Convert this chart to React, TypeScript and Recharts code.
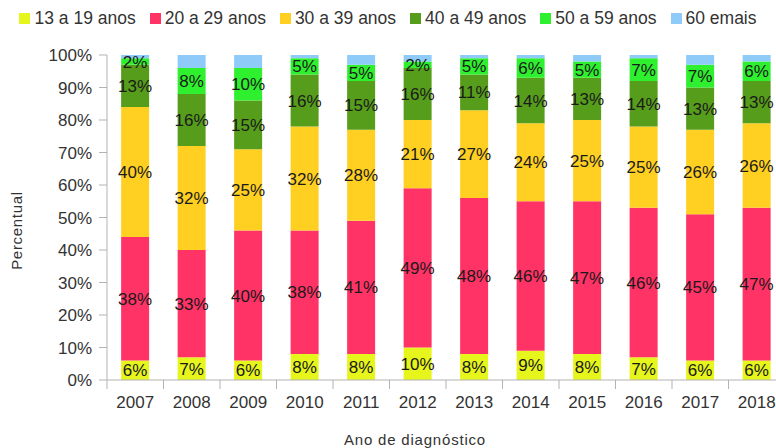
import { BarChart, Bar, XAxis, YAxis, Legend, LabelList } from "recharts";

const years = ["2007", "2008", "2009", "2010", "2011", "2012", "2013", "2014", "2015", "2016", "2017", "2018"];
const age13 = [6, 7, 6, 8, 8, 10, 8, 9, 8, 7, 6, 6];
const age20 = [38, 33, 40, 38, 41, 49, 48, 46, 47, 46, 45, 47];
const age30 = [40, 32, 25, 32, 28, 21, 27, 24, 25, 25, 26, 26];
const age40 = [13, 16, 15, 16, 15, 16, 11, 14, 13, 14, 13, 13];
const age50 = [2, 8, 10, 5, 5, 2, 5, 6, 5, 7, 7, 6];
const age60 = [1, 4, 4, 1, 3, 2, 1, 1, 2, 1, 3, 2];
const yTicks = [0, 10, 20, 30, 40, 50, 60, 70, 80, 90, 100];

const series = [
  { key: "a13", name: "13 a 19 anos", color: "#e6f51c" },
  { key: "a20", name: "20 a 29 anos", color: "#ff3366" },
  { key: "a30", name: "30 a 39 anos", color: "#ffd022" },
  { key: "a40", name: "40 a 49 anos", color: "#579d1c" },
  { key: "a50", name: "50 a 59 anos", color: "#2ef02e" },
  { key: "a60", name: "60 emais", color: "#8ecbf8" },
];

const data = years.map((year, i) => ({
  year,
  a13: age13[i],
  a20: age20[i],
  a30: age30[i],
  a40: age40[i],
  a50: age50[i],
  a60: age60[i],
}));

const FONT = "'Liberation Sans', Arial, sans-serif";
const WIDTH = 792;
const LEFT = 107;
const RIGHT = 7;
const STEP = (WIDTH - LEFT - RIGHT) / years.length;

const XTick = (props: any) => {
  const { x, y, payload } = props;
  return (
    <g>
      <line x1={x - STEP / 2} y1={y} x2={x - STEP / 2} y2={y + 9} stroke="#b3b3b3" />
      <text x={x} y={y + 28} textAnchor="middle" fontSize={17} fill="#333" fontFamily={FONT}>
        {payload.value}
      </text>
    </g>
  );
};

const LegendBox = () => (
  <div style={{ display: "flex", justifyContent: "center", width: 776, fontFamily: FONT, fontSize: 17.5, color: "#333" }}>
    {series.map((s, i) => (
      <div key={s.key} style={{ display: "flex", alignItems: "center", marginLeft: i === 0 ? 0 : 14 }}>
        <span style={{ width: 11, height: 11, background: s.color, marginRight: 4, display: "inline-block" }} />
        <span>{s.name}</span>
      </div>
    ))}
  </div>
);

const labelStyle = { fontSize: 17, fill: "#1a1a1a", fontFamily: FONT };
const pct = (v: any) => `${v}%`;

export default function App() {
  return (
    <div style={{ position: "absolute", left: 0, top: 0, width: 776, height: 448, overflow: "hidden", background: "#fff" }}>
      <BarChart
        width={WIDTH}
        height={448}
        data={data}
        barCategoryGap="25%"
        margin={{ top: 55, right: RIGHT, bottom: 0, left: 0 }}
      >
        <Legend verticalAlign="middle" content={<LegendBox />} wrapperStyle={{ top: 8, left: 0, width: 776 }} />
        <XAxis
          dataKey="year"
          height={68}
          tickLine={false}
          tickSize={0}
          tickMargin={0}
          axisLine={{ stroke: "#b3b3b3" }}
          tick={<XTick />}
          interval={0}
          label={{ value: "Ano de diagnóstico", position: "insideBottom", offset: 3, dx: -31, fontSize: 15, fill: "#333", fontFamily: FONT, letterSpacing: 0.8 }}
        />
        <YAxis
          width={LEFT}
          domain={[0, 100]}
          allowDataOverflow
          ticks={yTicks}
          tickFormatter={(v: number) => `${v}%`}
          tickSize={8}
          tickMargin={7}
          tickLine={{ stroke: "#b3b3b3" }}
          axisLine={{ stroke: "#b3b3b3" }}
          tick={{ fontSize: 17, fill: "#333", fontFamily: FONT }}
          label={{ value: "Percentual", angle: -90, position: "insideLeft", offset: 17, dy: 13, fontSize: 15, fill: "#333", fontFamily: FONT, letterSpacing: 0.7, style: { textAnchor: "middle" } }}
        />
        <Bar dataKey="a13" name="13 a 19 anos" stackId="a" fill="#e6f51c" isAnimationActive={false}>
          <LabelList dataKey="a13" position="center" formatter={pct} style={labelStyle} />
        </Bar>
        <Bar dataKey="a20" name="20 a 29 anos" stackId="a" fill="#ff3366" isAnimationActive={false}>
          <LabelList dataKey="a20" position="center" formatter={pct} style={labelStyle} />
        </Bar>
        <Bar dataKey="a30" name="30 a 39 anos" stackId="a" fill="#ffd022" isAnimationActive={false}>
          <LabelList dataKey="a30" position="center" formatter={pct} style={labelStyle} />
        </Bar>
        <Bar dataKey="a40" name="40 a 49 anos" stackId="a" fill="#579d1c" isAnimationActive={false}>
          <LabelList dataKey="a40" position="center" formatter={pct} style={labelStyle} />
        </Bar>
        <Bar dataKey="a50" name="50 a 59 anos" stackId="a" fill="#2ef02e" isAnimationActive={false}>
          <LabelList dataKey="a50" position="center" formatter={pct} style={labelStyle} />
        </Bar>
        <Bar dataKey="a60" name="60 emais" stackId="a" fill="#8ecbf8" isAnimationActive={false} />
      </BarChart>
    </div>
  );
}
